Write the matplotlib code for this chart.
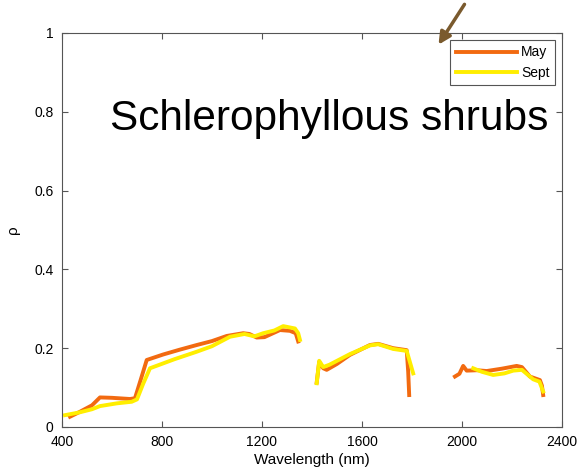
import matplotlib.pyplot as plt
import numpy as np

plt.rcParams['font.family'] = ['Liberation Sans', 'DejaVu Sans']

# reflectance spectra, three bands between water absorption gaps
may_nm = [[432, 470, 520, 552, 600, 672, 692, 715, 739, 805, 870, 939, 1000, 1059, 1125, 1150, 1179, 1210, 1272, 1312, 1335, 1345],
          [1419, 1429, 1445, 1459, 1500, 1552, 1632, 1665, 1725, 1779, 1785, 1789],
          [1972, 1990, 2005, 2019, 2060, 2099, 2160, 2219, 2240, 2272, 2312, 2320, 2325]]
may_rho = [[0.026, 0.038, 0.055, 0.075, 0.074, 0.071, 0.073, 0.12, 0.17, 0.184, 0.196, 0.208, 0.218, 0.231, 0.238, 0.236, 0.227, 0.228, 0.246, 0.244, 0.238, 0.217],
           [0.113, 0.165, 0.149, 0.145, 0.16, 0.183, 0.208, 0.211, 0.200, 0.195, 0.14, 0.081],
           [0.128, 0.135, 0.155, 0.143, 0.144, 0.142, 0.148, 0.155, 0.152, 0.128, 0.119, 0.105, 0.081]]

sept_nm = [[412, 470, 520, 552, 620, 679, 700, 725, 752, 850, 939, 1000, 1072, 1130, 1170, 1205, 1250, 1285, 1332, 1345, 1352],
           [1419, 1429, 1445, 1470, 1552, 1632, 1665, 1725, 1779, 1805],
           [2045, 2080, 2125, 2170, 2205, 2240, 2285, 2310, 2325]]
sept_rho = [[0.030, 0.037, 0.045, 0.053, 0.060, 0.064, 0.070, 0.11, 0.149, 0.172, 0.191, 0.205, 0.229, 0.236, 0.230, 0.238, 0.245, 0.256, 0.250, 0.238, 0.221],
            [0.111, 0.168, 0.152, 0.158, 0.185, 0.207, 0.210, 0.198, 0.193, 0.136],
            [0.149, 0.140, 0.132, 0.136, 0.143, 0.145, 0.121, 0.115, 0.090]]

may_color = '#f26a10'
sept_color = '#ffee00'

fig = plt.figure(figsize=(5.82, 4.76), dpi=100)
ax = fig.add_axes([0.1065, 0.103, 0.859, 0.8277])

for i, (x, y) in enumerate(zip(may_nm, may_rho)):
    ax.plot(x, y, color=may_color, lw=2.8, label='May' if i == 0 else None)
for i, (x, y) in enumerate(zip(sept_nm, sept_rho)):
    ax.plot(x, y, color=sept_color, lw=2.8, label='Sept' if i == 0 else None)

ax.set_xlim(400, 2400)
ax.set_ylim(0, 1)
ax.set_xticks(np.arange(400, 2401, 400))
ax.set_yticks([0, 0.2, 0.4, 0.6, 0.8, 1])
ax.set_yticklabels(['0', '0.2', '0.4', '0.6', '0.8', '1'])
ax.tick_params(direction='in', top=True, right=True, labelsize=10, length=4, color='#555555')
ax.tick_params(axis='x', pad=6)
ax.tick_params(axis='y', pad=6)
for s in ax.spines.values():
    s.set_color('#555555')
ax.set_xlabel('Wavelength (nm)', fontsize=11, labelpad=3)
ax.set_ylabel('ρ', fontsize=11, labelpad=10)

leg = ax.legend(loc='upper right', fontsize=10, handlelength=4.4, borderpad=0.4,
                labelspacing=0.45, handletextpad=0.3, fancybox=False, framealpha=1,
                borderaxespad=0.5)
leg.get_frame().set_edgecolor('#555555')
leg.get_frame().set_linewidth(0.8)

ax.text(0.096, 0.755, 'Schlerophyllous shrubs', transform=ax.transAxes,
        fontsize=30.5, va='baseline')

# arrow pointing at the legend corner
ax.annotate('', xy=(437 / 582, 1 - 47 / 476), xytext=(466 / 582, 1 - 2 / 476),
            xycoords='figure fraction', textcoords='figure fraction',
            arrowprops=dict(arrowstyle='-|>', color='#7a5a2e', lw=2.5, mutation_scale=18),
            annotation_clip=False)

fig.savefig('out.png', dpi=100)
